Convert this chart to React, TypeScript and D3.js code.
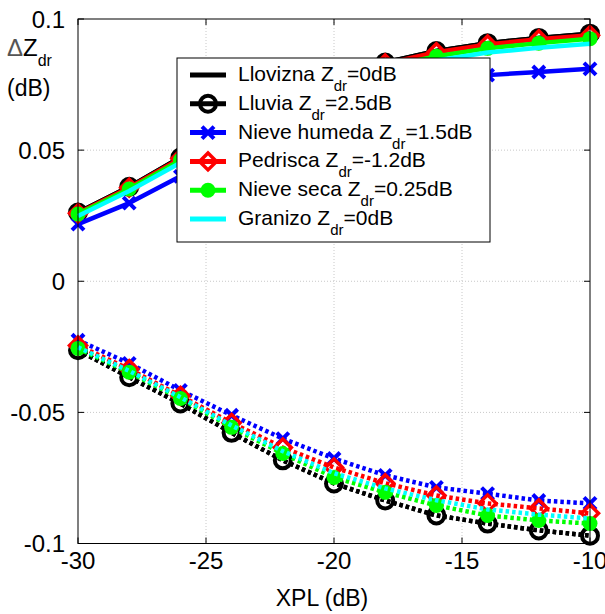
import React, { useEffect } from "react";
import * as d3 from "d3";

const xValues = [-30, -28, -26, -24, -22, -20, -18, -16, -14, -12, -10];

const lloviznaPos = [0.0262, 0.036, 0.0472, 0.0573, 0.0668, 0.0758, 0.0834, 0.0878, 0.0908, 0.0928, 0.0944];
const lloviznaNeg = [-0.0263, -0.0366, -0.0466, -0.0578, -0.0683, -0.0771, -0.0836, -0.0893, -0.0924, -0.095, -0.097];
const lluviaPos = [0.0262, 0.036, 0.0472, 0.0573, 0.0668, 0.0758, 0.0834, 0.0878, 0.0908, 0.0928, 0.0944];
const lluviaNeg = [-0.0263, -0.0366, -0.0466, -0.0578, -0.0683, -0.0771, -0.0836, -0.0893, -0.0924, -0.095, -0.097];
const humedaPos = [0.0218, 0.0298, 0.04, 0.049, 0.057, 0.064, 0.07, 0.0745, 0.0786, 0.0798, 0.081];
const humedaNeg = [-0.0225, -0.0313, -0.0416, -0.0511, -0.06, -0.0676, -0.074, -0.0786, -0.081, -0.0836, -0.0847];
const pedriscaPos = [0.0259, 0.0357, 0.0468, 0.0569, 0.0664, 0.0754, 0.083, 0.0873, 0.0903, 0.0923, 0.0938];
const pedriscaNeg = [-0.0245, -0.0335, -0.0437, -0.054, -0.0634, -0.071, -0.077, -0.0817, -0.0847, -0.0866, -0.0885];
const secaPos = [0.0256, 0.0352, 0.0462, 0.0561, 0.0654, 0.0742, 0.0816, 0.0858, 0.0888, 0.0908, 0.0925];
const secaNeg = [-0.0256, -0.0347, -0.0447, -0.0557, -0.0657, -0.0748, -0.0805, -0.0855, -0.0893, -0.0912, -0.0924];
const granizoPos = [0.0249, 0.0344, 0.0452, 0.055, 0.064, 0.0726, 0.0798, 0.0842, 0.0872, 0.089, 0.0906];
const granizoNeg = [-0.0252, -0.0342, -0.0442, -0.055, -0.0648, -0.0732, -0.079, -0.0835, -0.087, -0.089, -0.0905];

const seriesNames = ["Llovizna", "Lluvia", "Nieve humeda", "Pedrisca", "Nieve seca", "Granizo"];
const seriesZdr = ["=0dB", "=2.5dB", "=1.5dB", "=-1.2dB", "=0.25dB", "=0dB"];
const seriesColors = ["#000000", "#000000", "#0000ff", "#ff0000", "#00ff00", "#00ffff"];
const seriesMarkers = ["none", "circle", "x", "diamond", "dot", "none"];

const xTicks = [-30, -25, -20, -15, -10];
const yTicks = [-0.1, -0.05, 0, 0.05, 0.1];
const yTickLabels = ["-0.1", "-0.05", "0", "0.05", "0.1"];

const posData = [lloviznaPos, lluviaPos, humedaPos, pedriscaPos, secaPos, granizoPos];
const negData = [lloviznaNeg, lluviaNeg, humedaNeg, pedriscaNeg, secaNeg, granizoNeg];

const W = 605;
const H = 614;
const L = 78, R = 590, T = 19, B = 543.5;

const x = d3.scaleLinear().domain([-30, -10]).range([L, R]);
const y = d3.scaleLinear().domain([-0.1, 0.1]).range([B, T]);

function Marker({ type, cx, cy, color }: { type: string; cx: number; cy: number; color: string }) {
  if (type === "circle") {
    return <circle cx={cx} cy={cy} r={8} fill="none" stroke={color} strokeWidth={4} />;
  }
  if (type === "x") {
    const s = 6;
    return (
      <g stroke={color} strokeWidth={4}>
        <line x1={cx - s} y1={cy - s} x2={cx + s} y2={cy + s} />
        <line x1={cx - s} y1={cy + s} x2={cx + s} y2={cy - s} />
      </g>
    );
  }
  if (type === "diamond") {
    const s = 8.5;
    return (
      <path
        d={`M${cx},${cy - s}L${cx + s},${cy}L${cx},${cy + s}L${cx - s},${cy}Z`}
        fill="none"
        stroke={color}
        strokeWidth={3.5}
      />
    );
  }
  if (type === "dot") {
    return <circle cx={cx} cy={cy} r={7.5} fill={color} stroke="none" />;
  }
  return null;
}

export default function App() {
  useEffect(() => {
    document.body.style.margin = "0";
  }, []);

  const line = d3
    .line<number>()
    .x((_, i) => x(xValues[i]))
    .y((d) => y(d));

  const font = "Liberation Sans, Arial, sans-serif";

  const legX = 177, legY = 58, legW = 313, legH = 184;
  const rowBase = (i: number) => 81 + i * 28.8;

  return (
    <svg width={W} height={H} style={{ display: "block", background: "#fff" }} fontFamily={font}>
      <rect x={0} y={0} width={W} height={H} fill="#fff" />
      {/* grid */}
      <g stroke="#c8c8c8" strokeWidth={1} strokeDasharray="1,2">
        {xTicks.slice(1, -1).map((t) => (
          <line key={"gx" + t} x1={x(t)} x2={x(t)} y1={T} y2={B} />
        ))}
        {yTicks.slice(1, -1).map((t) => (
          <line key={"gy" + t} x1={L} x2={R} y1={y(t)} y2={y(t)} />
        ))}
      </g>
      {/* series */}
      {seriesNames.map((name, si) => (
        <g key={name}>
          <path d={line(posData[si]) || ""} fill="none" stroke={seriesColors[si]} strokeWidth={4.5} strokeLinejoin="round" />
          {posData[si].map((v, i) => (
            <Marker key={"p" + i} type={seriesMarkers[si]} cx={x(xValues[i])} cy={y(v)} color={seriesColors[si]} />
          ))}
          <path
            d={line(negData[si]) || ""}
            fill="none"
            stroke={seriesColors[si]}
            strokeWidth={4.5}
            strokeDasharray="3.5,3"
          />
          {negData[si].map((v, i) => (
            <Marker key={"n" + i} type={seriesMarkers[si]} cx={x(xValues[i])} cy={y(v)} color={seriesColors[si]} />
          ))}
        </g>
      ))}
      {/* axes box */}
      <rect x={L} y={T} width={R - L} height={B - T} fill="none" stroke="#000" strokeWidth={1} />
      <g stroke="#000" strokeWidth={1}>
        {xTicks.map((t) => (
          <g key={"tx" + t}>
            <line x1={x(t)} x2={x(t)} y1={B} y2={B - 6} />
            <line x1={x(t)} x2={x(t)} y1={T} y2={T + 6} />
          </g>
        ))}
        {yTicks.map((t) => (
          <g key={"ty" + t}>
            <line x1={L} x2={L + 6} y1={y(t)} y2={y(t)} />
            <line x1={R} x2={R - 6} y1={y(t)} y2={y(t)} />
          </g>
        ))}
      </g>
      <g fontSize={24} fill="#000">
        {xTicks.map((t) => (
          <text key={"lx" + t} x={x(t)} y={569} textAnchor="middle">
            {String(t)}
          </text>
        ))}
        {yTicks.map((t, i) => (
          <text key={"ly" + t} x={65} y={y(t) + 8.5} textAnchor="end">
            {yTickLabels[i]}
          </text>
        ))}
      </g>
      <text x={322} y={606} fontSize={23} textAnchor="middle">
        XPL (dB)
      </text>
      <text x={7} y={56} fontSize={24}>
        <tspan fill="#555">Δ</tspan>Z
        <tspan fontSize={16} dy={10}>dr</tspan>
      </text>
      <text x={7} y={96} fontSize={23}>
        (dB)
      </text>
      {/* legend */}
      <rect x={legX} y={legY} width={legW} height={legH} fill="#fff" stroke="#000" strokeWidth={1} />
      {seriesNames.map((name, si) => {
        const by = rowBase(si);
        const ly = by - 6;
        return (
          <g key={"leg" + name}>
            <line x1={190} x2={226} y1={ly} y2={ly} stroke={seriesColors[si]} strokeWidth={5} />
            <Marker type={seriesMarkers[si]} cx={208} cy={ly} color={seriesColors[si]} />
            <text x={238} y={by} fontSize={21}>
              {name + " Z"}
              <tspan fontSize={15} dy={10}>dr</tspan>
              <tspan dy={-10}>{seriesZdr[si]}</tspan>
            </text>
          </g>
        );
      })}
    </svg>
  );
}
